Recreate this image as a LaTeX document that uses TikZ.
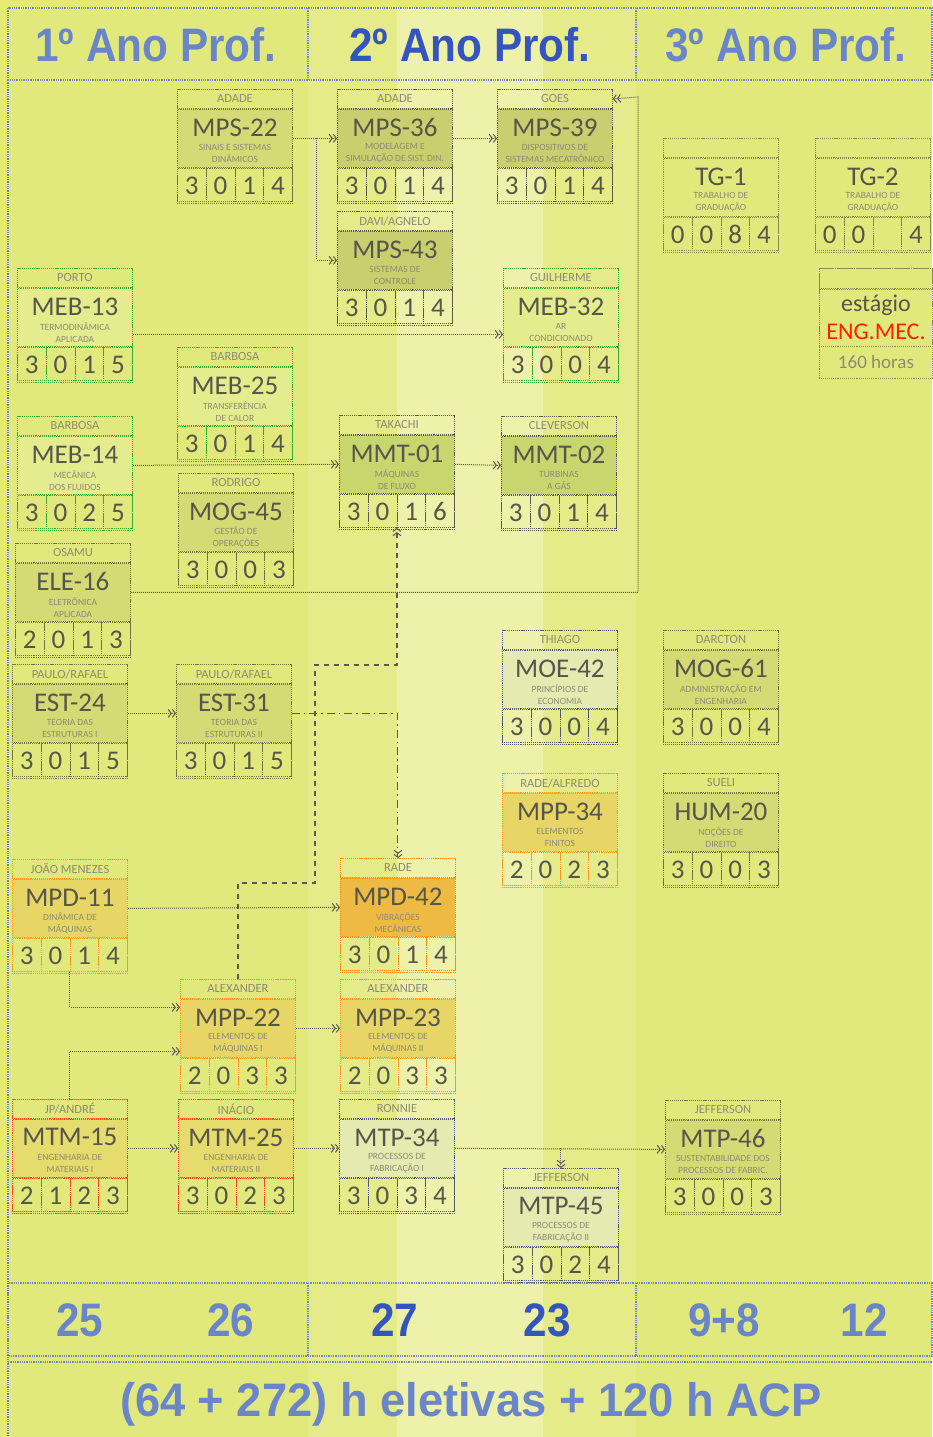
\documentclass[tikz,border=0pt]{standalone}
\usepackage{fontspec}
\setmainfont{Carlito}
\newfontfamily\titulo[FakeStretch=0.9]{Liberation Sans}
\usetikzlibrary{arrows,arrows.meta}

\definecolor{fundo}{HTML}{E2E97C}
\definecolor{faixa}{HTML}{EDF1AA}
\definecolor{coluna}{HTML}{E5EB88}
\definecolor{grade}{HTML}{7388BC}
\definecolor{azulT}{HTML}{6A86C8}
\definecolor{azulE}{HTML}{3555BE}
\definecolor{textoC}{HTML}{56564A}
\definecolor{textoG}{HTML}{8C8C72}
\definecolor{linha}{HTML}{5A5A4C}
\definecolor{borda}{HTML}{505A70}

% uma disciplina: nome, canto, cor, professor, sigla, ementa, creditos
\newcommand{\disciplina}[7]{%
  \node[caixa, #3, fill=none, anchor=north west] (#1) at (#2) {};
  \node[prof, #3, fill=none, anchor=north] (#1p) at (#1.north) {#4};
  \node[sigla, #3, anchor=north] (#1c) at (#1p.south) {};
  \node[siglatxt] (#1t) at ([yshift=11pt]#1c.center) {#5};
  \node[ementa] (#1e) at ([yshift=-15pt]#1c.center) {#6};
  \foreach \v [count=\i] in {#7}
    \node[celula, #3, fill=none, anchor=north west] (#1n\i) at ([xshift={(\i-1)*28.75pt}]#1c.south west) {\v};
}

\begin{document}
\begin{tikzpicture}[x=1pt,y=-1pt,
    caixa/.style={minimum width=115pt, minimum height=112pt, inner sep=0pt, densely dotted, line width=0.9pt},
    prof/.style={minimum width=115pt, minimum height=19pt, inner sep=0pt, densely dotted, line width=0.9pt,
      text=textoG, font=\fontsize{12.5}{12.5}\selectfont},
    sigla/.style={minimum width=115pt, minimum height=58pt, inner sep=0pt, densely dotted, line width=0.9pt},
    siglatxt/.style={inner sep=0pt, text=textoC, font=\fontsize{27}{27}\selectfont},
    ementa/.style={inner sep=0pt, align=center, text=textoG, font=\fontsize{9.5}{12}\selectfont},
    celula/.style={minimum width=28.75pt, minimum height=35pt, inner sep=0pt, densely dotted, line width=0.9pt,
      text=textoC, font=\fontsize{27}{27}\selectfont},
    cinza/.style={draw=black!50!fundo, fill=black!6!fundo},
    escuro/.style={draw=linha, fill=black!11!fundo},
    claro/.style={draw=black!40!fundo, fill=fundo},
    verde/.style={draw=green!60!black!80, fill=green!4!white!15!fundo},
    oliva/.style={draw=linha, fill=green!30!black!12!fundo},
    laranja/.style={draw=orange!75!fundo, fill=orange!18!fundo},
    laranjaF/.style={draw=orange!85!fundo, fill=orange!45!fundo},
    vermelho/.style={draw=red!70!fundo, fill=orange!12!fundo},
    azul/.style={draw=borda, fill=blue!8!white!40!fundo},
    ano/.style={inner sep=0pt, text=azulT, font=\titulo\bfseries\fontsize{47}{47}\selectfont},
    grade/.style={draw=grade, densely dotted, line width=1.3pt},
    ponta/.style={-{Straight Barb[length=3pt,width=8pt,line width=1pt] Straight Barb[length=3pt,width=8pt,line width=1pt]}},
    seta/.style={ponta, draw=linha, densely dotted, line width=1pt},
    tracejado/.style={ponta, draw=linha, dash pattern=on 5pt off 5pt, line width=1.1pt},
    tracoponto/.style={ponta, draw=linha, dash pattern=on 8pt off 4pt on 1.5pt off 4pt, line width=1pt}]
  \useasboundingbox (0,0) rectangle (932,1437);
  % fundo
  \fill[fundo!90!yellow] (0,0) rectangle (932,1437);
  \fill[fundo] (8,8) rectangle (932,1437);
  \fill[coluna] (308,8) rectangle (636,1437);
  \fill[faixa] (397,8) rectangle (543,1437);

  % cabecalho e rodape
  \draw[grade] (8,8) rectangle (932,80);
  \draw[grade] (308,8) -- (308,80);
  \draw[grade] (636,8) -- (636,80);
  \draw[grade] (8,80) -- (8,1437);
  \draw[grade] (8,1283) rectangle (932,1356);
  \draw[grade] (308,1283) -- (308,1356);
  \draw[grade] (636,1283) -- (636,1356);
  \draw[grade] (8,1362) -- (932,1362);
  \node[ano] (ano1) at (156,45) {1º Ano Prof.};
  \node[ano, text=azulE] (ano2) at (470,45) {2º Ano Prof.};
  \node[ano] (ano3) at (786,45) {3º Ano Prof.};
  \node[ano] (ch1) at (80,1320) {25};
  \node[ano] (ch2) at (231,1320) {26};
  \node[ano, text=azulE] (ch3) at (395,1320) {27};
  \node[ano, text=azulE] (ch4) at (547,1320) {23};
  \node[ano] (ch5) at (724,1320) {9+8};
  \node[ano] (ch6) at (864,1320) {12};
  \node[ano, xscale=1.07] (eletivas) at (471,1404) {(64 + 272) h eletivas + 120 h ACP};

  % disciplinas
  \disciplina{mps22}{177,89}{cinza}{ADADE}{MPS-22}{SINAIS E SISTEMAS\\DINÂMICOS}{3,0,1,4}
  \disciplina{mps36}{337,89}{escuro}{ADADE}{MPS-36}{MODELAGEM E\\SIMULAÇÃO DE SIST. DIN.}{3,0,1,4}
  \disciplina{mps39}{497,89}{escuro}{GOES}{MPS-39}{DISPOSITIVOS DE\\SISTEMAS MECATRÔNICO}{3,0,1,4}
  \disciplina{mps43}{337,211}{escuro}{DAVI/AGNELO}{MPS-43}{SISTEMAS DE\\CONTROLE}{3,0,1,4}
  \disciplina{tg1}{663,138}{claro}{}{TG-1}{TRABALHO DE\\GRADUAÇÃO}{0,0,8,4}
  \disciplina{tg2}{815,138}{claro}{}{TG-2}{TRABALHO DE\\GRADUAÇÃO}{0,0,,4}
  \disciplina{meb13}{17,268}{verde}{PORTO}{MEB-13}{TERMODINÂMICA\\APLICADA}{3,0,1,5}
  \disciplina{meb32}{503,268}{verde}{GUILHERME}{MEB-32}{AR\\CONDICIONADO}{3,0,0,4}
  \disciplina{meb25}{177,347}{verde}{BARBOSA}{MEB-25}{TRANSFERÊNCIA\\DE CALOR}{3,0,1,4}
  \disciplina{meb14}{17,416}{verde}{BARBOSA}{MEB-14}{MECÂNICA\\DOS FLUIDOS}{3,0,2,5}
  \disciplina{mog45}{178,473}{cinza}{RODRIGO}{MOG-45}{GESTÃO DE\\OPERAÇÕES}{3,0,0,3}
  \disciplina{mmt01}{339,415}{oliva}{TAKACHI}{MMT-01}{MÁQUINAS\\DE FLUXO}{3,0,1,6}
  \disciplina{mmt02}{501,416}{oliva}{CLEVERSON}{MMT-02}{TURBINAS\\A GÁS}{3,0,1,4}
  \disciplina{ele16}{15,543}{cinza}{OSAMU}{ELE-16}{ELETRÔNICA\\APLICADA}{2,0,1,3}
  \disciplina{est24}{12,664}{cinza}{PAULO/RAFAEL}{EST-24}{TEORIA DAS\\ESTRUTURAS I}{3,0,1,5}
  \disciplina{est31}{176,664}{cinza}{PAULO/RAFAEL}{EST-31}{TEORIA DAS\\ESTRUTURAS II}{3,0,1,5}
  \disciplina{moe42}{502,630}{azul}{THIAGO}{MOE-42}{PRINCÍPIOS DE\\ECONOMIA}{3,0,0,4}
  \disciplina{mog61}{663,630}{cinza}{DARCTON}{MOG-61}{ADMINISTRAÇÃO EM\\ENGENHARIA}{3,0,0,4}
  \disciplina{mpp34}{502,773}{laranja}{RADE/ALFREDO}{MPP-34}{ELEMENTOS\\FINITOS}{2,0,2,3}
  \disciplina{hum20}{663,773}{cinza}{SUELI}{HUM-20}{NOÇÕES DE\\DIREITO}{3,0,0,3}
  \disciplina{mpd11}{12,859}{laranja}{JOÃO MENEZES}{MPD-11}{DINÂMICA DE\\MÁQUINAS}{3,0,1,4}
  \disciplina{mpd42}{340,858}{laranjaF}{RADE}{MPD-42}{VIBRAÇÕES\\MECÂNICAS}{3,0,1,4}
  \disciplina{mpp22}{180,979}{laranja}{ALEXANDER}{MPP-22}{ELEMENTOS DE\\MÁQUINAS I}{2,0,3,3}
  \disciplina{mpp23}{340,979}{laranja}{ALEXANDER}{MPP-23}{ELEMENTOS DE\\MÁQUINAS II}{2,0,3,3}
  \disciplina{mtm15}{12,1099}{vermelho}{JP/ANDRÉ}{MTM-15}{ENGENHARIA DE\\MATERIAIS I}{2,1,2,3}
  \disciplina{mtm25}{178,1099}{vermelho}{INÁCIO}{MTM-25}{ENGENHARIA DE\\MATERIAIS II}{3,0,2,3}
  \disciplina{mtp34}{339,1099}{azul}{RONNIE}{MTP-34}{PROCESSOS DE\\FABRICAÇÃO I}{3,0,3,4}
  \disciplina{mtp45}{503,1168}{azul}{JEFFERSON}{MTP-45}{PROCESSOS DE\\FABRICAÇÃO II}{3,0,2,4}
  \disciplina{mtp46}{665,1100}{cinza}{JEFFERSON}{MTP-46}{SUSTENTABILIDADE DOS\\PROCESSOS DE FABRIC.}{3,0,0,3}

  % estagio
  \node[caixa, claro, fill=none, anchor=north west, minimum width=113pt, minimum height=110pt] (estagio) at (819,268) {};
  \node[prof, claro, fill=none, minimum width=113pt, minimum height=20pt, anchor=north] (estagiop) at (estagio.north) {};
  \node[sigla, claro, fill=none, minimum width=113pt, minimum height=57pt, anchor=north] (estagioc) at (estagiop.south) {};
  \node[inner sep=0pt, text=textoC, font=\fontsize{24}{24}\selectfont] (estagiot) at ([yshift=13pt]estagioc.center) {estágio};
  \node[inner sep=0pt, text=red!75!orange, font=\fontsize{24}{24}\selectfont] (estagiom) at ([yshift=-14pt]estagioc.center) {ENG.MEC.};
  \node[inner sep=0pt, text=textoG, font=\fontsize{19}{19}\selectfont] (estagioh) at ([yshift=17pt]estagio.south) {160 horas};

  % pre-requisitos
  \draw[seta] (mps22c.east) -- (mps36c.west);
  \draw[seta] ([xshift=24pt]mps22c.east) |- (mps43c.west);
  \draw[seta] (mps36c.east) -- (mps39c.west);
  \draw[seta] ([yshift=-17pt]meb13c.east) -- ([yshift=-17pt]meb32c.west);
  \draw[seta] (meb14c.east) -- (mmt01c.west);
  \draw[seta] (mmt01c.east) -- (mmt02c.west);
  \coordinate (canto) at (638,97);
  \draw[seta] (ele16c.east) -| (canto) -- (mps39p.east);
  \draw[seta] (est24c.east) -- (est31c.west);
  \draw[tracoponto] (est31c.east) -| (mpd42.north);
  \coordinate (d1) at (315,883);
  \coordinate (d2) at (315,665);
  \draw[tracejado] (mpp22.north) |- (d1) -- (d2) -| (mmt01.south);
  \draw[seta] (mpd11c.east) -- (mpd42c.west);
  \draw[seta] (mpd11.south) |- ([yshift=21pt]mpp22c.west);
  \draw[seta] (mtm15.north) |- ([yshift=-23pt]mpp22c.west);
  \draw[seta] (mpp22c.east) -- (mpp23c.west);
  \draw[seta] (mtm15c.east) -- (mtm25c.west);
  \draw[seta] (mtm25c.east) -- (mtp34c.west);
  \draw[seta] (mtp34c.east) -- (mtp46c.west);
  \draw[seta] (mtp34c.east -| mtp45.north) -- (mtp45.north);
\end{tikzpicture}
\end{document}
